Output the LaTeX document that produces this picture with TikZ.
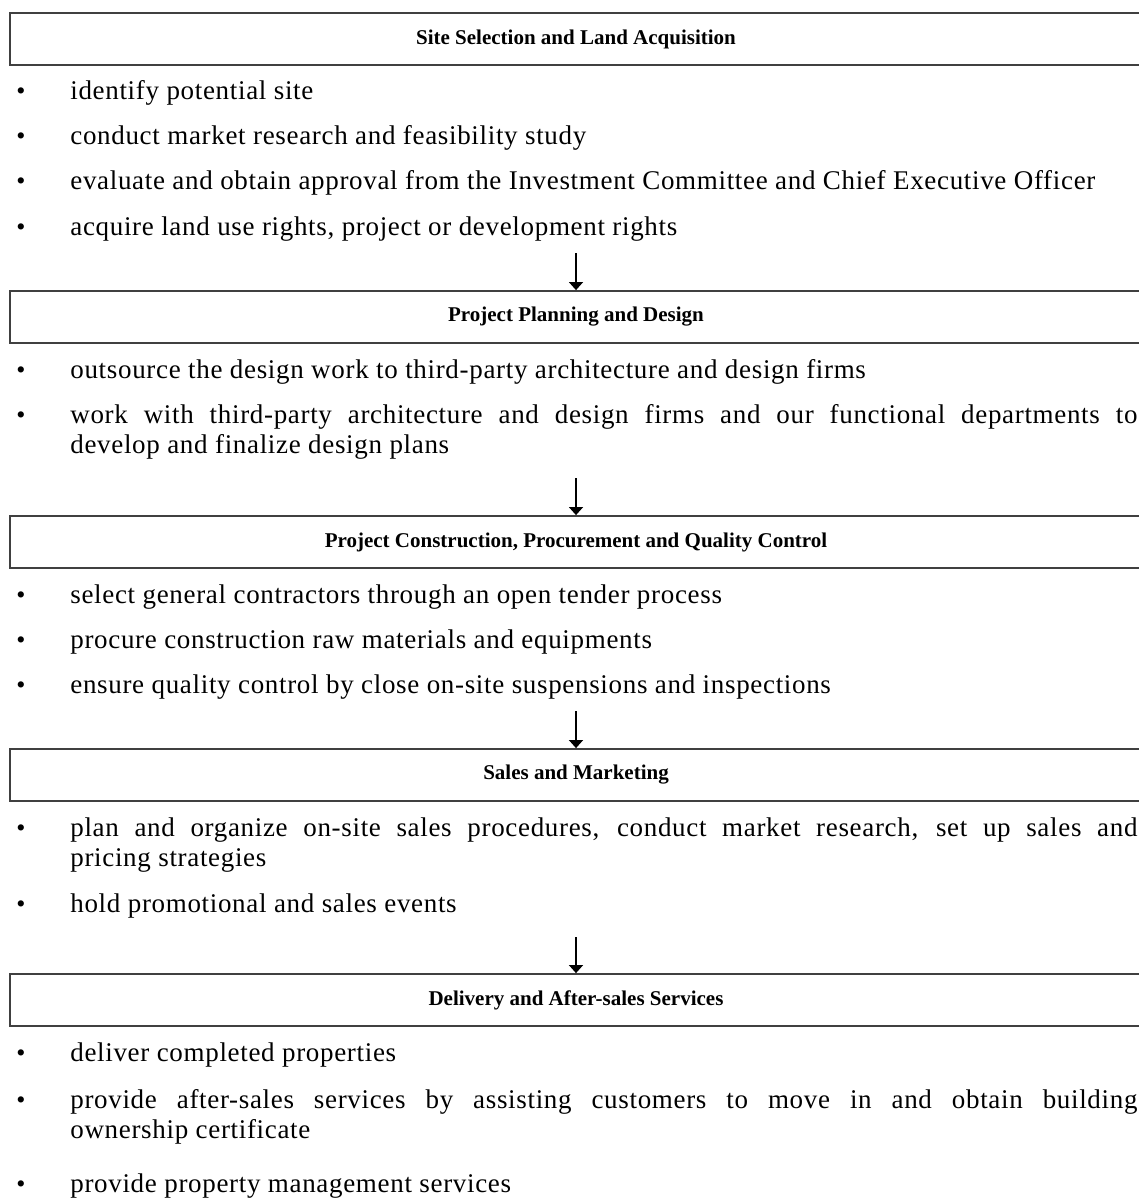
\documentclass[tikz,border=0pt]{standalone}
\usepackage{fontspec}
\setmainfont{Liberation Serif}
\newfontfamily\itemfont[LetterSpace=2.5]{Liberation Serif}
\usetikzlibrary{arrows.meta,positioning}

\begin{document}
\begin{tikzpicture}[
  x=0.5pt, y=-0.5pt,
  stage/.style={draw=black!75, line width=0.9pt, minimum width=566pt,
                minimum height=26pt, inner sep=0pt,
                font=\fontsize{10.5}{12}\selectfont\bfseries},
  item/.style={anchor=base west, text width=533.5pt, align=justify,
               inner sep=0pt, font=\itemfont\fontsize{13.5}{15}\selectfont},
  dot/.style={anchor=base, inner sep=0pt, font=\fontsize{13}{15}\selectfont},
  ar/.style={-{Triangle[length=4pt,width=7pt]}, line width=0.6pt}
]
\useasboundingbox (0,0) rectangle (1139,1198);
\coordinate (dotx) at (21,0);

% stage boxes
\node[stage] (st1) at (576,39)   {Site Selection and Land Acquisition};
\node[stage] (st2) at (576,317)  {Project Planning and Design};
\node[stage] (st3) at (576,542)  {Project Construction, Procurement and Quality Control};
\node[stage] (st4) at (576,775)  {Sales and Marketing};
\node[stage] (st5) at (576,1000) {Delivery and After-sales Services};

% tasks of each stage
\node[item] (s1a) at (70,100) {identify potential site};
\node[item] (s1b) at (70,145) {conduct market research and feasibility study};
\node[item] (s1c) at (70,190) {evaluate and obtain approval from the Investment Committee and Chief Executive Officer};
\node[item] (s1d) at (70,235) {acquire land use rights, project or development rights};

\node[item] (s2a) at (70,378) {outsource the design work to third-party architecture and design firms};
\node[item] (s2b) at (70,423) {work with third-party architecture and design firms and our functional departments to\linebreak develop and finalize design plans};

\node[item] (s3a) at (70,603) {select general contractors through an open tender process};
\node[item] (s3b) at (70,648) {procure construction raw materials and equipments};
\node[item] (s3c) at (70,693) {ensure quality control by close on-site suspensions and inspections};

\node[item] (s4a) at (70,836) {plan and organize on-site sales procedures, conduct market research, set up sales and\linebreak pricing strategies};
\node[item] (s4b) at (70,912) {hold promotional and sales events};

\node[item] (s5a) at (70,1061) {deliver completed properties};
\node[item] (s5b) at (70,1108) {provide after-sales services by assisting customers to move in and obtain building\linebreak ownership certificate};
\node[item] (s5c) at (70,1192) {provide property management services};

\foreach \n in {s1a,s1b,s1c,s1d,s2a,s2b,s3a,s3b,s3c,s4a,s4b,s5a,s5b,s5c}
  \node[dot] (b\n) at (\n.base west -| dotx) {\textbullet};

% flow between stages
\coordinate (a1) at (576,253);
\coordinate (a2) at (576,478);
\coordinate (a3) at (576,711);
\coordinate (a4) at (576,937);
\draw[ar] (a1) -- (st2.north);
\draw[ar] (a2) -- (st3.north);
\draw[ar] (a3) -- (st4.north);
\draw[ar] (a4) -- (st5.north);
\end{tikzpicture}
\end{document}
